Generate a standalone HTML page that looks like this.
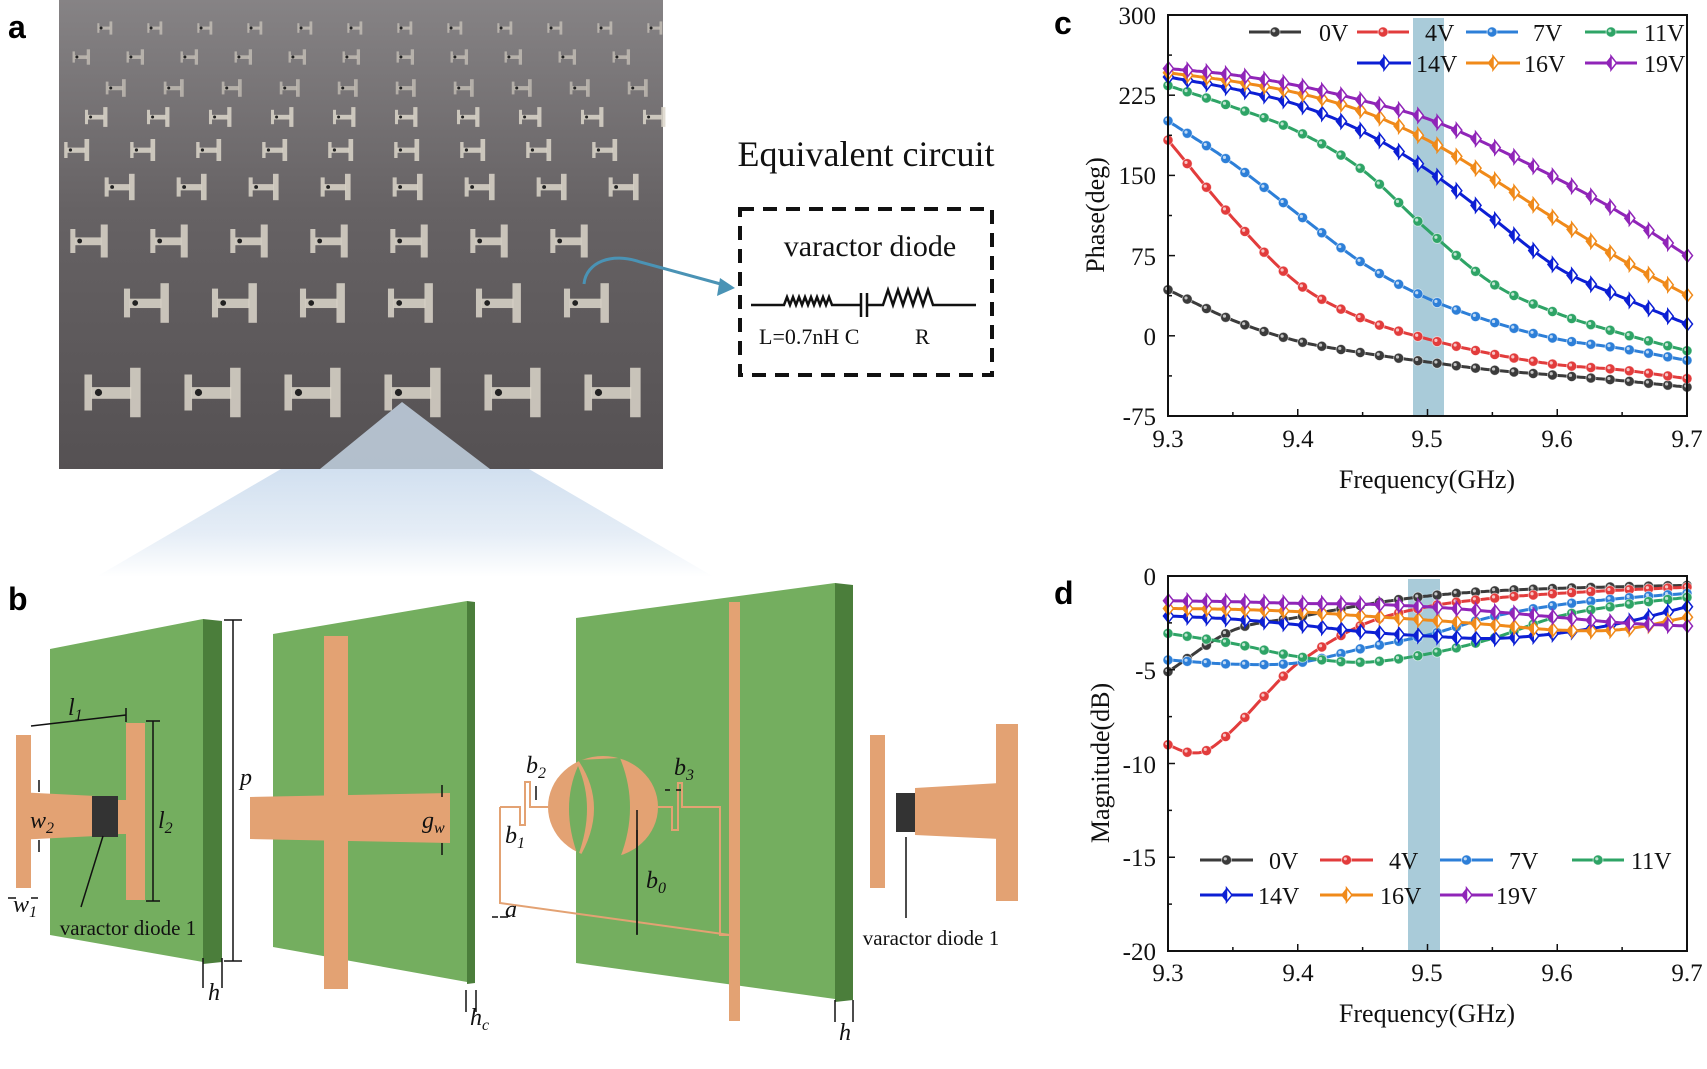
<!DOCTYPE html>
<html><head><meta charset="utf-8"><style>
html,body{margin:0;padding:0;background:#fff}
svg{display:block}
.t{font-family:"Liberation Serif",serif;fill:#111}
.i{font-family:"Liberation Serif",serif;font-style:italic;fill:#111}
.b{font-family:"Liberation Sans",sans-serif;font-weight:bold;fill:#000}
</style></head><body>
<svg id="s" width="1707" height="1069" viewBox="0 0 1707 1069" xmlns="http://www.w3.org/2000/svg">
<defs>
<linearGradient id="cone" x1="0" y1="0" x2="0" y2="1">
<stop offset="0" stop-color="#c6d8ec"/><stop offset="0.6" stop-color="#dfe9f4"/><stop offset="1" stop-color="#ffffff"/>
</linearGradient>
<linearGradient id="photo" x1="0" y1="0" x2="0" y2="1">
<stop offset="0" stop-color="#868385"/><stop offset="0.45" stop-color="#666264"/><stop offset="1" stop-color="#555153"/>
</linearGradient>
</defs>
<!-- panel a -->
<text class="b" x="8" y="38" font-size="32">a</text>
<polygon points="402,402 281,469 529,469" fill="url(#cone)"/>
<polygon points="281,469 529,469 714,577 96,577" fill="url(#cone)" opacity="0.8"/>
<rect x="59" y="0" width="604" height="469" fill="url(#photo)"/>
<g id="cells"></g>
<polygon points="402,402 320,469 490,469" fill="#c3d2e2" opacity="0.85"/>
<path d="M584,284 C586,262 612,252 640,262 L728,286" fill="none" stroke="#4a93b5" stroke-width="3"/>
<polygon points="735,288 720,278 717,296" fill="#4a93b5"/>
<text class="t" x="866" y="166" font-size="36" text-anchor="middle">Equivalent circuit</text>
<rect x="740" y="209" width="252" height="166" fill="none" stroke="#111" stroke-width="4" stroke-dasharray="14,9"/>
<text class="t" x="870" y="256" font-size="30" text-anchor="middle">varactor diode</text>
<path d="M751,305 H784 l3,-8 3,8 3,-8 3,8 3,-8 3,8 3,-8 3,8 3,-8 3,8 3,-8 3,8 3,-8 3,8 3,-8 3,8 H861 M867,305 H883 l5,-15 5,15 5,-15 5,15 5,-15 5,15 5,-15 5,15 5,-15 5,15 H976" fill="none" stroke="#111" stroke-width="2.5"/>
<path d="M861,293 V317 M867,293 V317" stroke="#111" stroke-width="2.5"/>
<text class="t" x="759" y="344" font-size="22">L=0.7nH C</text>
<text class="t" x="915" y="344" font-size="22">R</text>
<!-- panel b -->
<text class="b" x="8" y="610" font-size="32">b</text>
<polygon points="50,649 203,619 203,962 50,935" fill="#74ae5f"/>
<polygon points="203,619 222,621 222,962 203,964" fill="#4b7e3b"/>
<polygon points="273,634 467,601 467,982 273,947" fill="#74ae5f"/>
<polygon points="467,601 475,602 475,983 467,984" fill="#4b7e3b"/>
<polygon points="576,618 835,583 835,999 576,963" fill="#74ae5f"/>
<polygon points="835,583 853,585 853,1000 835,1002" fill="#4b7e3b"/>
<g fill="#e3a273">
<rect x="16" y="735" width="15" height="153"/>
<polygon points="16,792 96,796 96,836 16,840"/>
<rect x="118" y="800" width="10" height="34"/>
<rect x="126" y="723" width="19" height="177"/>
<rect x="324" y="636" width="24" height="353"/>
<polygon points="250,797 450,793 450,843 250,839"/>
<rect x="729" y="602" width="11" height="419"/>
<ellipse cx="603" cy="807" rx="55" ry="51"/>
<rect x="870" y="735" width="15" height="153"/>
<polygon points="915,788 1000,783 1000,839 915,835"/>
<rect x="996" y="724" width="22" height="177"/>
</g>
<path d="M578,766 Q560,807 578,856 Q596,807 578,766 Z" fill="#74ae5f"/>
<path d="M578,760 Q610,807 578,860 L620,858 Q640,807 620,758 Z" fill="#74ae5f"/>
<path d="M500,807 H520 V825 H525 V782 H530 V807 H548 M658,807 H672 V830 H678 V783 H682 V807 H720 V885 M500,807 V903 L730,935 H720 V885" fill="none" stroke="#e3a273" stroke-width="2"/>
<rect x="92" y="796" width="26" height="41" fill="#333"/>
<rect x="896" y="793" width="19" height="39" fill="#333"/>
<g stroke="#111" stroke-width="1.5" fill="none">
<path d="M31,726 L126,715 M126,708 V722 M153,721 V901 M146,721 H160 M146,901 H160 M233,620 V961 M224,620 H242 M224,961 H242 M81,907 L103,836 M906,918 V837 M637,830 V935"/>
<path d="M39,780 V792 M39,852 V840 M8,898 H16 M38,898 H31 M203,958 V988 M222,958 V988 M442,785 V797 M442,855 V843 M466,990 V1012 M476,990 V1012 M492,917 H498 M508,917 H500 M637,810 V934 M665,790 H670 M681,790 H676 M835,1000 V1022 M853,1000 V1022 M536,786 V800"/>
</g>
<text class="i" x="68" y="715" font-size="24">l<tspan font-size="16" dy="5">1</tspan></text>
<text class="i" x="30" y="828" font-size="24">w<tspan font-size="16" dy="5">2</tspan></text>
<text class="i" x="158" y="828" font-size="24">l<tspan font-size="16" dy="5">2</tspan></text>
<text class="i" x="13" y="912" font-size="24">w<tspan font-size="16" dy="5">1</tspan></text>
<text class="t" x="128" y="935" font-size="21" text-anchor="middle">varactor diode 1</text>
<text class="i" x="240" y="785" font-size="24">p</text>
<text class="i" x="208" y="1000" font-size="24">h</text>
<text class="i" x="422" y="828" font-size="24">g<tspan font-size="16" dy="5">w</tspan></text>
<text class="i" x="470" y="1025" font-size="24">h<tspan font-size="16" dy="5">c</tspan></text>
<text class="i" x="526" y="773" font-size="24">b<tspan font-size="16" dy="5">2</tspan></text>
<text class="i" x="674" y="775" font-size="24">b<tspan font-size="16" dy="5">3</tspan></text>
<text class="i" x="505" y="843" font-size="24">b<tspan font-size="16" dy="5">1</tspan></text>
<text class="i" x="505" y="917" font-size="24">a</text>
<text class="i" x="646" y="888" font-size="24">b<tspan font-size="16" dy="5">0</tspan></text>
<text class="i" x="839" y="1040" font-size="24">h</text>
<text class="t" x="931" y="945" font-size="21" text-anchor="middle">varactor diode 1</text>
<!-- chart c -->
<text class="b" x="1054" y="34" font-size="32">c</text>
<rect x="1413" y="18" width="31" height="398" fill="#a9cbd9"/>
<g id="cc"></g>
<rect x="1168" y="15" width="519" height="401" fill="none" stroke="#111" stroke-width="2"/>
<g class="t" font-size="25" text-anchor="end">
<text x="1156" y="24">300</text><text x="1156" y="104">225</text><text x="1156" y="184">150</text><text x="1156" y="265">75</text><text x="1156" y="345">0</text><text x="1156" y="425">-75</text>
</g>
<g class="t" font-size="25" text-anchor="middle">
<text x="1168" y="447">9.3</text><text x="1298" y="447">9.4</text><text x="1427" y="447">9.5</text><text x="1557" y="447">9.6</text><text x="1687" y="447">9.7</text>
</g>
<text class="t" font-size="26" text-anchor="middle" transform="translate(1104,215) rotate(-90)">Phase(deg)</text>
<text class="t" font-size="26" text-anchor="middle" x="1427" y="488">Frequency(GHz)</text>
<g class="t" font-size="24">
<text x="1319" y="41">0V</text><text x="1425" y="41">4V</text><text x="1533" y="41">7V</text><text x="1644" y="41">11V</text>
<text x="1416" y="72">14V</text><text x="1524" y="72">16V</text><text x="1644" y="72">19V</text>
</g>
<!-- chart d -->
<text class="b" x="1054" y="604" font-size="32">d</text>
<rect x="1408" y="579" width="32" height="372" fill="#a9cbd9"/>
<g id="dd"></g>
<rect x="1168" y="576" width="519" height="375" fill="none" stroke="#111" stroke-width="2"/>
<g class="t" font-size="25" text-anchor="end">
<text x="1156" y="585">0</text><text x="1156" y="679">-5</text><text x="1156" y="773">-10</text><text x="1156" y="866">-15</text><text x="1156" y="960">-20</text>
</g>
<g class="t" font-size="25" text-anchor="middle">
<text x="1168" y="981">9.3</text><text x="1298" y="981">9.4</text><text x="1427" y="981">9.5</text><text x="1557" y="981">9.6</text><text x="1687" y="981">9.7</text>
</g>
<text class="t" font-size="26" text-anchor="middle" transform="translate(1109,763) rotate(-90)">Magnitude(dB)</text>
<text class="t" font-size="26" text-anchor="middle" x="1427" y="1022">Frequency(GHz)</text>
<g class="t" font-size="24">
<text x="1269" y="869">0V</text><text x="1389" y="869">4V</text><text x="1509" y="869">7V</text><text x="1631" y="869">11V</text>
<text x="1258" y="904">14V</text><text x="1380" y="904">16V</text><text x="1496" y="904">19V</text>
</g>
</svg>
<script>
var NS="http://www.w3.org/2000/svg";
function el(p,n,a){var e=document.createElementNS(NS,n);for(var k in a)e.setAttribute(k,a[k]);p.appendChild(e);return e;}
(function(){var g=document.getElementById("cells");
 var rows=[[22,12,50],[50,14,54],[80,16,58],[108,18,62],[140,20,66],[175,24,72],[226,30,80],[285,36,88],[370,45,100]];
 var cx0=402;
 rows.forEach(function(r){var y=r[0],h=r[1],p=r[2];var op=y<100?0.6:0.85;var w=h*1.3;
  for(var j=-8;j<=8;j++){var x=cx0+j*p-w*0.3;
   if(x<55||x+w>668)continue;
   el(g,"rect",{x:x,y:y+h*0.1,width:w*0.13,height:h*0.8,fill:"#dcd6ca",opacity:op});
   el(g,"rect",{x:x+w*0.12,y:y+h*0.38,width:w*0.68,height:h*0.26,fill:"#dcd6ca",opacity:op});
   el(g,"rect",{x:x+w*0.78,y:y-h*0.05,width:w*0.18,height:h*1.1,fill:"#dcd6ca",opacity:op});
   el(g,"circle",{cx:x+w*0.24,cy:y+h*0.5,r:Math.max(1.5,h*0.08),fill:"#222"});}
 });})();
var cols=["#3b3b3b","#e23c3c","#2d7fd8","#2ea466","#0c1fd4","#f08a1a","#9025b8"];
var F=[9.3,9.35,9.4,9.45,9.5,9.55,9.6,9.65,9.7];
var P=[[43,14.5,-5,-16,-24.5,-32,-37,-42,-48],[183,110,49,16,-3,-17,-27,-32,-40],[201,161,114,68,35,13,-3,-12,-23],[234,214,191,155,99,49,21,2,-14],[242,231,216,191,155,110,64,36,11],[246,238,227,210,183,147,108,71,38],[250,244,234,220,203,177,147,114,75]];
var M=[[[9.3,-5.1],[9.35,-2.9],[9.4,-2.2],[9.45,-1.55],[9.5,-1.07],[9.55,-0.8],[9.6,-0.66],[9.65,-0.57],[9.7,-0.5]],
[[9.3,-9.0],[9.315,-9.4],[9.33,-9.3],[9.35,-8.2],[9.375,-6.35],[9.4,-4.66],[9.45,-2.6],[9.5,-1.64],[9.55,-1.19],[9.6,-0.93],[9.65,-0.75],[9.7,-0.6]],
[-4.48,-4.7,-4.63,-3.86,-3.15,-2.17,-1.55,-1.19,-0.93],[-3.06,-3.6,-4.3,-4.6,-4.16,-3.33,-2.17,-1.55,-1.14],
[-2.13,-2.3,-2.6,-2.97,-3.2,-3.33,-3.06,-2.5,-1.64],[-1.73,-1.78,-1.9,-2.13,-2.35,-2.6,-2.88,-2.85,-2.2],[-1.32,-1.37,-1.46,-1.5,-1.64,-1.9,-2.2,-2.5,-2.67]];
function knots(d){if(typeof d[0]==="number")return d.map(function(v,i){return [F[i],v];});return d;}
function interp(k,x){var n=k.length,i=0;while(i<n-2&&x>k[i+1][0])i++;
 function sl(j){if(j==0)return (k[1][1]-k[0][1])/(k[1][0]-k[0][0]);if(j==n-1)return (k[n-1][1]-k[n-2][1])/(k[n-1][0]-k[n-2][0]);return (k[j+1][1]-k[j-1][1])/(k[j+1][0]-k[j-1][0]);}
 var x0=k[i][0],x1=k[i+1][0],h=x1-x0,t=(x-x0)/h,y0=k[i][1],y1=k[i+1][1],m0=sl(i)*h,m1=sl(i+1)*h,t2=t*t,t3=t2*t;
 return (2*t3-3*t2+1)*y0+(t3-2*t2+t)*m0+(-2*t3+3*t2)*y1+(t3-t2)*m1;}
function X(f){return 1168+(f-9.3)*1297.5;}
function marker(g,x,y,c,dia){
 if(!dia){el(g,"circle",{cx:x,cy:y,r:5,fill:c,stroke:"#fff","stroke-width":0.8,"stroke-opacity":0.6});el(g,"circle",{cx:x-1.2,cy:y-1.2,r:1.6,fill:"#fff",opacity:0.7});}
 else{el(g,"polygon",{points:(x-5.5)+","+y+" "+x+","+(y-7)+" "+x+","+(y+7),fill:c});el(g,"polygon",{points:x+","+(y-7)+" "+(x+5.5)+","+y+" "+x+","+(y+7),fill:"#fff",stroke:c,"stroke-width":1.5});}
}
function draw(gid,data,Y,leg){
 var g=document.getElementById(gid);
 for(var s=0;s<7;s++){var k=knots(data[s]),d="";
  for(var j=0;j<=200;j++){var f=9.3+0.4*j/200;d+=(j?"L":"M")+X(f).toFixed(1)+","+Y(interp(k,f)).toFixed(1);}
  el(g,"path",{d:d,fill:"none",stroke:cols[s],"stroke-width":3});
  for(var j=0;j<28;j++){var f=9.3+0.4*j/27;marker(g,X(f),Y(interp(k,f)),cols[s],s>=4);}
 }
 for(var s=0;s<7;s++){var L=leg[s];el(g,"line",{x1:L[0],x2:L[1],y1:L[2],y2:L[2],stroke:cols[s],"stroke-width":3});marker(g,(L[0]+L[1])/2,L[2],cols[s],s>=4);}
}
draw("cc",P,function(p){return 15+(300-p)*1.0693;},[[1249,1301,32],[1357,1409,32],[1466,1518,32],[1585,1637,32],[1357,1411,63],[1466,1520,63],[1585,1637,63]]);
draw("dd",M,function(m){return 576-m*18.75;},[[1200,1253,860],[1320,1373,860],[1440,1493,860],[1572,1624,860],[1200,1253,895],[1320,1373,895],[1440,1493,895]]);
var sv=document.getElementById("s");
function ticks(top,bot,yv){
 for(var i=0;i<=8;i++){var x=1168+i*64.875,l=i%2?4:7;el(sv,"line",{x1:x,x2:x,y1:bot,y2:bot-l,stroke:"#111","stroke-width":1.5});}
 yv.forEach(function(y,i){var l=i%2?4:7;el(sv,"line",{x1:1168,x2:1168+l,y1:y,y2:y,stroke:"#111","stroke-width":1.5});});
}
var yc=[];for(var i=0;i<=10;i++)yc.push(15+i*40.1);ticks(15,416,yc);
var yd=[];for(var i=0;i<=8;i++)yd.push(576+i*46.875);ticks(576,951,yd);
</script>
</body></html>
